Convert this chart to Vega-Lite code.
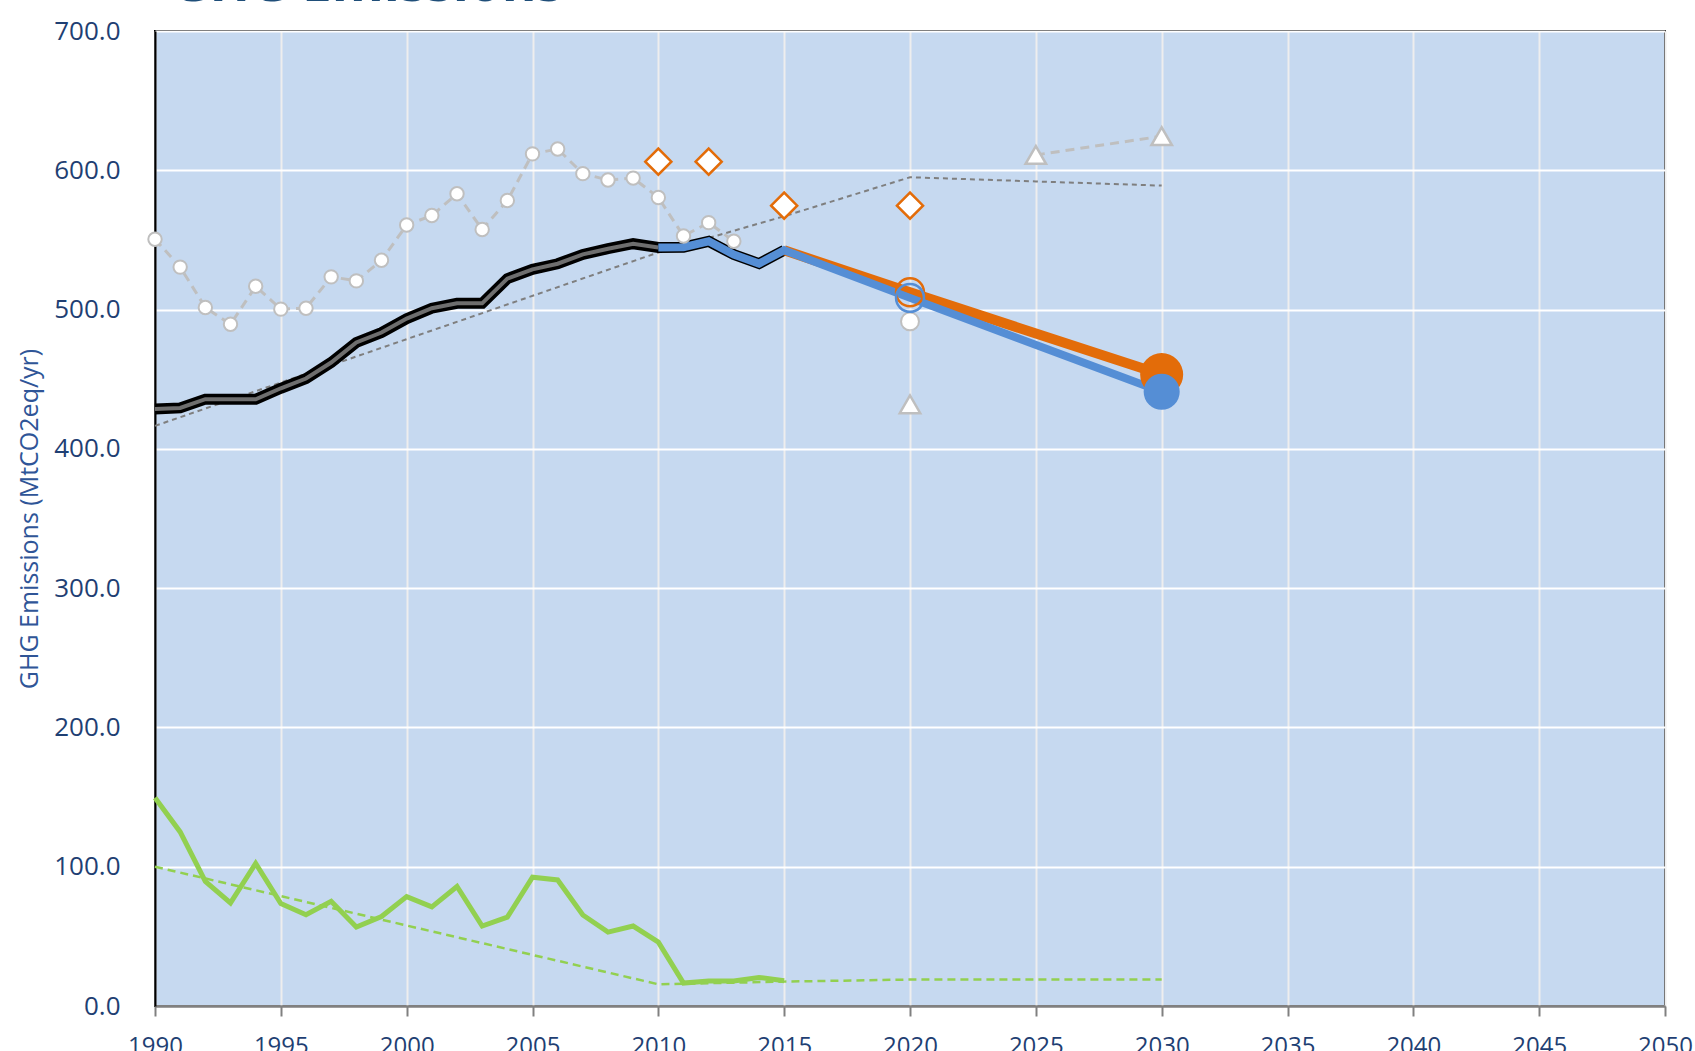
{
  "$schema": "https://vega.github.io/schema/vega-lite/v6.json",
  "width": 1510,
  "height": 975,
  "autosize": {"type": "none"},
  "padding": {"left": 155, "top": 31, "right": 30, "bottom": 45},
  "background": "white",
  "title": {"text": "GHG Emissions", "anchor": "start", "frame": "group", "fontSize": 53, "font": "Open Sans", "fontWeight": "bold", "color": "#1F4E79", "offset": -47, "baseline": "bottom", "dx": 16},
  "config": {
    "view": {"fill": "#C6D9F0", "stroke": "#000000", "strokeWidth": 2},
    "axis": {"labelFont": "Open Sans", "titleFont": "Open Sans", "labelColor": "#1F3F73", "titleColor": "#2F5597", "gridColor": "#FFFFFF", "gridWidth": 2, "gridOpacity": 1}
  },
  "datasets": {
    "green_trend": [{"year": 1990, "value": 100}, {"year": 2010, "value": 15.6}, {"year": 2015, "value": 17.5}, {"year": 2020, "value": 19}, {"year": 2030, "value": 19}],
    "green": [{"year": 1990, "value": 149.5}, {"year": 1991, "value": 125}, {"year": 1992, "value": 89.5}, {"year": 1993, "value": 74}, {"year": 1994, "value": 102.4}, {"year": 1995, "value": 73.5}, {"year": 1996, "value": 65.5}, {"year": 1997, "value": 75.2}, {"year": 1998, "value": 56.7}, {"year": 1999, "value": 64.2}, {"year": 2000, "value": 78.5}, {"year": 2001, "value": 71.2}, {"year": 2002, "value": 85.8}, {"year": 2003, "value": 57.4}, {"year": 2004, "value": 63.8}, {"year": 2005, "value": 92.5}, {"year": 2006, "value": 90.5}, {"year": 2007, "value": 65.3}, {"year": 2008, "value": 53}, {"year": 2009, "value": 57.4}, {"year": 2010, "value": 45.9}, {"year": 2011, "value": 16.5}, {"year": 2012, "value": 17.9}, {"year": 2013, "value": 17.9}, {"year": 2014, "value": 20.5}, {"year": 2015, "value": 18.2}],
    "gray_trend": [{"year": 1990, "value": 416.5}, {"year": 2010, "value": 541}, {"year": 2015, "value": 567}, {"year": 2020, "value": 595}, {"year": 2025, "value": 592}, {"year": 2030, "value": 589}],
    "gray_circles": [{"year": 1990, "value": 550.5}, {"year": 1991, "value": 530.5}, {"year": 1992, "value": 501.5}, {"year": 1993, "value": 489.5}, {"year": 1994, "value": 516.7}, {"year": 1995, "value": 500.3}, {"year": 1996, "value": 501}, {"year": 1997, "value": 523.5}, {"year": 1998, "value": 520.6}, {"year": 1999, "value": 535.4}, {"year": 2000, "value": 560.7}, {"year": 2001, "value": 567.5}, {"year": 2002, "value": 583.2}, {"year": 2003, "value": 557.5}, {"year": 2004, "value": 578.3}, {"year": 2005, "value": 611.8}, {"year": 2006, "value": 615.3}, {"year": 2007, "value": 597.6}, {"year": 2008, "value": 593}, {"year": 2009, "value": 594.4}, {"year": 2010, "value": 580.5}, {"year": 2011, "value": 552.8}, {"year": 2012, "value": 562.4}, {"year": 2013, "value": 549}],
    "triangle_line": [{"year": 2025, "value": 611}, {"year": 2030, "value": 624.5}],
    "triangle_single": [{"year": 2020, "value": 432}],
    "white_2020": [{"year": 2020, "value": 491.5}],
    "black": [{"year": 1990, "value": 428.6}, {"year": 1991, "value": 429.4}, {"year": 1992, "value": 435.7}, {"year": 1993, "value": 435.6}, {"year": 1994, "value": 435.6}, {"year": 1995, "value": 443.5}, {"year": 1996, "value": 450.5}, {"year": 1997, "value": 462}, {"year": 1998, "value": 476.4}, {"year": 1999, "value": 483.5}, {"year": 2000, "value": 493.5}, {"year": 2001, "value": 501}, {"year": 2002, "value": 504.5}, {"year": 2003, "value": 504.5}, {"year": 2004, "value": 522.2}, {"year": 2005, "value": 528.9}, {"year": 2006, "value": 532.9}, {"year": 2007, "value": 539.6}, {"year": 2008, "value": 543.7}, {"year": 2009, "value": 547.3}, {"year": 2010, "value": 544.6}, {"year": 2011, "value": 544.8}, {"year": 2012, "value": 549}, {"year": 2013, "value": 539.5}, {"year": 2014, "value": 533}, {"year": 2015, "value": 542.6}],
    "gray_inner": [{"year": 1990, "value": 428.6}, {"year": 1991, "value": 429.4}, {"year": 1992, "value": 435.7}, {"year": 1993, "value": 435.6}, {"year": 1994, "value": 435.6}, {"year": 1995, "value": 443.5}, {"year": 1996, "value": 450.5}, {"year": 1997, "value": 462}, {"year": 1998, "value": 476.4}, {"year": 1999, "value": 483.5}, {"year": 2000, "value": 493.5}, {"year": 2001, "value": 501}, {"year": 2002, "value": 504.5}, {"year": 2003, "value": 504.5}, {"year": 2004, "value": 522.2}, {"year": 2005, "value": 528.9}, {"year": 2006, "value": 532.9}, {"year": 2007, "value": 539.6}, {"year": 2008, "value": 543.7}, {"year": 2009, "value": 547.3}, {"year": 2010, "value": 544.6}],
    "orange": [{"year": 2015, "value": 542.6}, {"year": 2020, "value": 512.4}, {"year": 2030, "value": 453.3}],
    "blue": [{"year": 2010, "value": 544.6}, {"year": 2011, "value": 544.8}, {"year": 2012, "value": 549}, {"year": 2013, "value": 539.5}, {"year": 2014, "value": 533}, {"year": 2015, "value": 542.6}, {"year": 2020, "value": 508.4}, {"year": 2030, "value": 441}],
    "diamonds": [{"year": 2010, "value": 606.2}, {"year": 2012, "value": 606.2}, {"year": 2015, "value": 574.6}, {"year": 2020, "value": 574.6}],
    "orange_ring": [{"year": 2020, "value": 512.4}],
    "blue_ring": [{"year": 2020, "value": 508.4}],
    "orange_big": [{"year": 2030, "value": 453.3}],
    "blue_big": [{"year": 2030, "value": 441}]
  },
  "encoding": {
    "x": {"field": "year", "type": "quantitative", "scale": {"domain": [1990, 2050], "nice": false, "zero": false},
      "axis": {"title": null, "values": [1990, 1995, 2000, 2005, 2010, 2015, 2020, 2025, 2030, 2035, 2040, 2045, 2050], "format": "d", "labelFontSize": 24, "gridColor": "#EEEEEE", "gridWidth": 2, "domainColor": "#808080", "domainWidth": 2.5, "tickColor": "#808080", "tickWidth": 2, "tickSize": 10, "labelPadding": 18, "labelFlush": false}},
    "y": {"field": "value", "type": "quantitative", "scale": {"domain": [0, 700], "nice": false},
      "axis": {"title": "GHG Emissions (MtCO2eq/yr)", "values": [0, 100, 200, 300, 400, 500, 600, 700], "format": ".1f", "labelFontSize": 26, "titleFontSize": 25, "titleFontWeight": "normal", "ticks": false, "labelPadding": 35, "titlePadding": 11, "domainColor": "#000000", "domainWidth": 2}}
  },
  "layer": [
    {"data": {"name": "green_trend"}, "mark": {"type": "line", "color": "#92D050", "strokeWidth": 2.5, "strokeDash": [8, 5]}},
    {"data": {"name": "green"}, "mark": {"type": "line", "color": "#92D050", "strokeWidth": 5}},
    {"data": {"name": "gray_trend"}, "mark": {"type": "line", "color": "#7F7F7F", "strokeWidth": 2, "strokeDash": [5, 4]}},
    {"data": {"name": "black"}, "mark": {"type": "line", "color": "#000000", "strokeWidth": 11}},
    {"data": {"name": "gray_inner"}, "mark": {"type": "line", "color": "#6E6E6E", "strokeWidth": 4}},
    {"data": {"name": "orange"}, "mark": {"type": "line", "color": "#E36C09", "strokeWidth": 10}},
    {"data": {"name": "blue"}, "mark": {"type": "line", "color": "#558ED5", "strokeWidth": 8}},
    {"data": {"name": "gray_circles"}, "mark": {"type": "line", "color": "#BFBFBF", "strokeWidth": 3, "strokeDash": [9, 6]}},
    {"data": {"name": "gray_circles"}, "mark": {"type": "point", "shape": "circle", "filled": true, "fill": "#FFFFFF", "stroke": "#BFBFBF", "strokeWidth": 2, "size": 180, "opacity": 1}},
    {"data": {"name": "triangle_line"}, "mark": {"type": "line", "color": "#BFBFBF", "strokeWidth": 3, "strokeDash": [9, 6]}},
    {"data": {"name": "triangle_line"}, "mark": {"type": "point", "shape": "triangle-up", "filled": true, "fill": "#FFFFFF", "stroke": "#BFBFBF", "strokeWidth": 2.5, "size": 420, "opacity": 1}},
    {"data": {"name": "triangle_single"}, "mark": {"type": "point", "shape": "triangle-up", "filled": true, "fill": "#FFFFFF", "stroke": "#BFBFBF", "strokeWidth": 2.5, "size": 420, "opacity": 1}},
    {"data": {"name": "white_2020"}, "mark": {"type": "point", "shape": "circle", "filled": true, "fill": "#FFFFFF", "stroke": "#BFBFBF", "strokeWidth": 2, "size": 320, "opacity": 1}},
    {"data": {"name": "diamonds"}, "mark": {"type": "point", "shape": "diamond", "filled": true, "fill": "#FFFFFF", "stroke": "#E36C09", "strokeWidth": 2.5, "size": 680, "opacity": 1}},
    {"data": {"name": "orange_ring"}, "mark": {"type": "point", "shape": "circle", "filled": false, "stroke": "#E36C09", "strokeWidth": 2.5, "size": 780, "opacity": 1}},
    {"data": {"name": "blue_ring"}, "mark": {"type": "point", "shape": "circle", "filled": false, "stroke": "#558ED5", "strokeWidth": 2.5, "size": 780, "opacity": 1}},
    {"data": {"name": "orange_big"}, "mark": {"type": "point", "shape": "circle", "filled": true, "color": "#E36C09", "size": 1850, "opacity": 1}},
    {"data": {"name": "blue_big"}, "mark": {"type": "point", "shape": "circle", "filled": true, "color": "#558ED5", "size": 1300, "opacity": 1}}
  ]
}
